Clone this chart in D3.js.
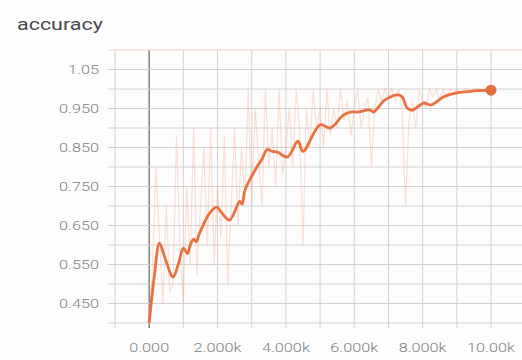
<!DOCTYPE html>
<html>
<head>
<meta charset="utf-8">
<script src="https://cdn.jsdelivr.net/npm/d3@7"></script>
<style>
  html, body { margin: 0; padding: 0; background: #fdfdfd; }
  svg { display: block; }
  text { font-family: Roboto, "Open Sans", sans-serif; }
</style>
</head>
<body>
<svg id="chart" width="522" height="360"></svg>
<script>
// Training accuracy: raw values logged every 100 steps plus the smoothed curve
const RAW_INTERVAL = 100;
const rawAccuracy = [
  0.40, 0.55, 0.80, 0.62, 0.45, 0.70, 0.48, 0.50, 0.88, 0.60,
  0.45, 0.75, 0.55, 0.90, 0.52, 0.70, 0.85, 0.60, 0.90, 0.55,
  0.75, 0.62, 0.88, 0.50, 0.70, 0.90, 0.65, 0.85, 0.72, 1.00,
  0.70, 0.95, 0.82, 0.70, 1.00, 0.80, 0.90, 0.75, 1.00, 0.78,
  0.85, 0.95, 0.80, 1.00, 0.90, 0.60, 0.95, 0.85, 1.00, 0.90,
  0.95, 0.85, 1.00, 0.88, 0.95, 0.90, 1.00, 0.92, 0.97, 0.88,
  0.95, 1.00, 0.90, 0.95, 0.98, 0.80, 0.95, 1.00, 0.97, 1.00,
  0.98, 1.00, 0.97, 1.00, 0.95, 0.70, 0.92, 0.97, 0.90, 1.00,
  0.97, 0.95, 1.00, 0.98, 1.00, 0.97, 1.00, 0.98, 1.00, 0.99,
  1.00, 0.99, 1.00, 1.00, 0.99, 1.00, 1.00, 1.00, 0.99, 1.00,
  1.00
];

const smoothSteps = [
  0, 150, 300, 450, 700, 850, 1000, 1120, 1200, 1300,
  1380, 1450, 1770, 1980, 2100, 2350, 2650, 2720, 2800, 3150,
  3300, 3450, 3600, 3750, 4050, 4350, 4500, 5000, 5300, 5680,
  5880, 6080, 6470, 6560, 6900, 7290, 7400, 7550, 7700, 8030,
  8240, 8620, 9000, 9500, 10000
];
const smoothAccuracy = [
  0.400, 0.520, 0.605, 0.570, 0.518, 0.550, 0.592, 0.578, 0.600, 0.615,
  0.608, 0.625, 0.682, 0.697, 0.685, 0.664, 0.712, 0.705, 0.740, 0.800,
  0.820, 0.845, 0.840, 0.838, 0.826, 0.866, 0.840, 0.908, 0.900, 0.933,
  0.941, 0.941, 0.946, 0.941, 0.972, 0.985, 0.980, 0.951, 0.946, 0.964,
  0.959, 0.980, 0.990, 0.995, 0.997
];

const yTickValues = [0.45, 0.55, 0.65, 0.75, 0.85, 0.95, 1.05];
const yTickLabels = ["0.450", "0.550", "0.650", "0.750", "0.850", "0.950", "1.05"];
const xTickValues = [0, 2000, 4000, 6000, 8000, 10000];
const xTickLabels = ["0.000", "2.000k", "4.000k", "6.000k", "8.000k", "10.00k"];

const TEXT_STRETCH = 1.3;

const svg = d3.select("#chart");
const plot = { left: 115, right: 522, top: 50, bottom: 323 };

const x = d3.scaleLinear().domain([-1000, 10000]).range([plot.left, 491]);
const y = d3.scaleLinear().domain([0.40, 1.10]).range([plot.bottom, plot.top]);

const grid = svg.append("g");
const gridColor = "#d2d2d2";

// vertical grid every 1k steps
const xGrid = d3.range(-1000, 10001, 1000);
grid.selectAll("line.vx").data(xGrid).join("line")
  .attr("x1", d => x(d)).attr("x2", d => x(d))
  .attr("y1", plot.top).attr("y2", plot.bottom + 5)
  .attr("stroke", d => d === 0 ? "#7a7a7a" : gridColor)
  .attr("stroke-width", d => d === 0 ? 1.4 : 1);

// horizontal grid every 0.05
const yGrid = d3.range(8, 23).map(i => i * 0.05);
grid.selectAll("line.hy").data(yGrid).join("line")
  .attr("x1", plot.left - 7).attr("x2", plot.right)
  .attr("y1", d => y(d)).attr("y2", d => y(d))
  .attr("stroke", d => Math.abs(d - 1.10) < 1e-9 ? "#ecd2c8" : gridColor)
  .attr("stroke-width", 1);

// raw series, faint
const rawLine = d3.line()
  .x((d, i) => x(i * RAW_INTERVAL))
  .y(d => y(d));
svg.append("path")
  .datum(rawAccuracy)
  .attr("d", rawLine)
  .attr("fill", "none")
  .attr("stroke", "#f3a98a")
  .attr("stroke-opacity", 0.35)
  .attr("stroke-width", 1.2);

// smoothed series
const smoothData = smoothSteps.map((s, i) => ({ step: s, value: smoothAccuracy[i] }));
const smoothLine = d3.line()
  .x(d => x(d.step))
  .y(d => y(d.value))
  .curve(d3.curveCatmullRom.alpha(0.5));
svg.append("path")
  .datum(smoothData)
  .attr("d", smoothLine)
  .attr("fill", "none")
  .attr("stroke", "#e8713f")
  .attr("stroke-width", 2.8)
  .attr("stroke-linejoin", "round");

const last = smoothData[smoothData.length - 1];
svg.append("circle")
  .attr("cx", x(last.step)).attr("cy", y(last.value))
  .attr("r", 5.5)
  .attr("fill", "#e2703f");

// axis labels
function stretch(sel) {
  sel.each(function () {
    const w = this.getComputedTextLength();
    d3.select(this).attr("textLength", w * TEXT_STRETCH).attr("lengthAdjust", "spacingAndGlyphs");
  });
}

svg.append("g").selectAll("text").data(yTickValues).join("text")
  .attr("x", 99)
  .attr("y", d => y(d))
  .attr("dy", "0.36em")
  .attr("text-anchor", "end")
  .attr("font-size", 12.5)
  .attr("font-weight", 300)
  .attr("fill", "#808080")
  .text((d, i) => yTickLabels[i])
  .call(stretch);

svg.append("g").selectAll("text").data(xTickValues).join("text")
  .attr("x", d => x(d))
  .attr("y", 352)
  .attr("text-anchor", "middle")
  .attr("font-size", 12.5)
  .attr("font-weight", 300)
  .attr("fill", "#808080")
  .text((d, i) => xTickLabels[i])
  .call(stretch);

svg.append("text")
  .attr("x", 17)
  .attr("y", 30)
  .attr("font-size", 16.5)
  .attr("fill", "#4a4a4a")
  .text("accuracy")
  .call(stretch);
</script>
</body>
</html>
